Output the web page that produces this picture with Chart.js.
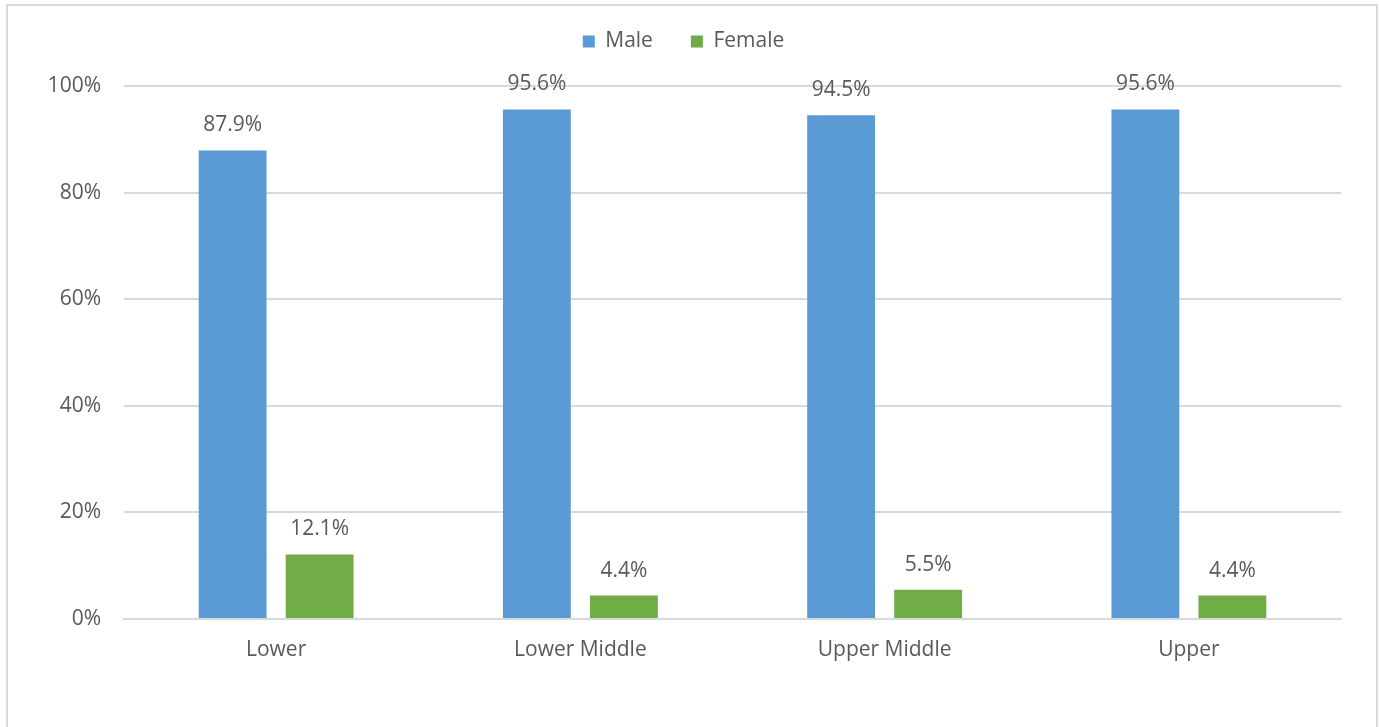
<!DOCTYPE html>
<html>
<head>
<meta charset="utf-8">
<script src="https://cdn.jsdelivr.net/npm/chart.js@4/dist/chart.umd.min.js"></script>
<style>
  html, body { margin: 0; padding: 0; background: #fff; overflow: hidden; }
  #frame { position: absolute; left: 6px; top: 4px; width: 1368px; height: 740px; border: 2px solid #d9d9d9; }
  #wrap { position: absolute; left: 0; top: 0; width: 1379px; height: 727px; }
</style>
</head>
<body>
<div id="frame"></div>
<div id="wrap"><canvas id="c" width="1379" height="727"></canvas></div>
<script>
const categories = ["Lower", "Lower Middle", "Upper Middle", "Upper"];
const maleValues = [87.9, 95.6, 94.5, 95.6];
const femaleValues = [12.1, 4.4, 5.5, 4.4];
const seriesNames = ["Male", "Female"];
const yTicks = [0, 20, 40, 60, 80, 100];

const FONT = "'Open Sans', sans-serif";
const TEXT = "#595959";
const FS = 21;

const dataLabels = {
  id: 'dataLabels',
  afterDatasetsDraw(chart) {
    const ctx = chart.ctx;
    ctx.save();
    ctx.font = FS + "px " + FONT;
    ctx.fillStyle = TEXT;
    ctx.textAlign = 'center';
    ctx.textBaseline = 'middle';
    chart.data.datasets.forEach((ds, i) => {
      chart.getDatasetMeta(i).data.forEach((bar, j) => {
        ctx.fillText(ds.data[j].toFixed(1) + '%', bar.x, bar.y - 25);
      });
    });
    ctx.restore();
  }
};

const legendSpace = {
  id: 'legendSpace',
  beforeInit(chart) {
    const lg = chart.legend;
    if (!lg) return;
    const orig = lg.fit;
    lg.fit = function () { orig.call(this); this.height = 93; };
  },
  afterLayout(chart) {
    if (chart.legend) chart.legend.left += 26;
  }
};

new Chart(document.getElementById('c'), {
  type: 'bar',
  data: {
    labels: categories,
    datasets: [
      { label: seriesNames[0], data: maleValues, backgroundColor: '#5B9BD5', barPercentage: 0.78, categoryPercentage: 0.572 },
      { label: seriesNames[1], data: femaleValues, backgroundColor: '#70AD47', barPercentage: 0.78, categoryPercentage: 0.572 }
    ]
  },
  options: {
    responsive: false,
    animation: false,
    devicePixelRatio: 1,
    layout: { padding: { top: -7, right: 38, left: 0, bottom: 0 } },
    plugins: {
      legend: {
        position: 'top',
        labels: {
          font: { family: FONT, size: FS },
          color: TEXT,
          boxWidth: 12,
          boxHeight: 12,
          padding: 38,
          useBorderRadius: false
        }
      },
      tooltip: { enabled: false }
    },
    scales: {
      x: {
        grid: { display: false, drawTicks: false },
        border: { display: true, color: '#d9d9d9', width: 2 },
        ticks: { font: { family: FONT, size: FS }, color: TEXT, padding: 18 },
        afterFit(axis) { axis.height = 108; }
      },
      y: {
        min: 0, max: 100,
        afterBuildTicks(axis) { axis.ticks = yTicks.map(v => ({ value: v })); },
        grid: { color: '#d9d9d9', lineWidth: 2, drawTicks: false },
        border: { display: false },
        ticks: { font: { family: FONT, size: FS }, color: TEXT, padding: 23, callback: v => v + '%' },
        afterFit(axis) { axis.width = 124; }
      }
    }
  },
  plugins: [dataLabels, legendSpace]
});
</script>
</body>
</html>
